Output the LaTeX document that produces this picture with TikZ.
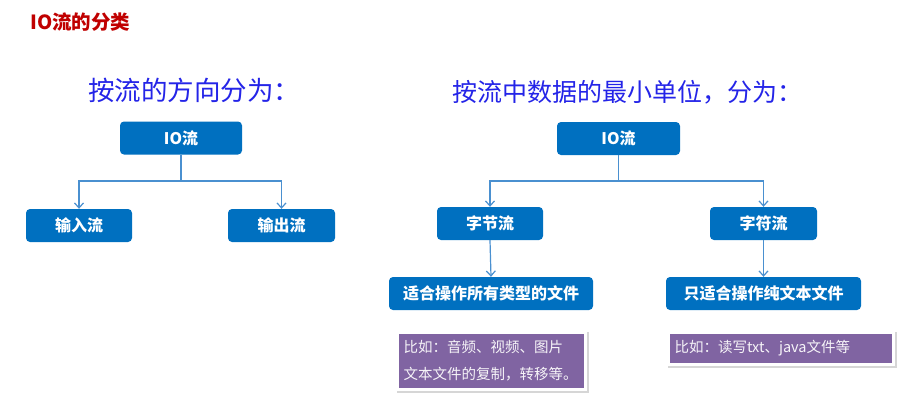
\documentclass[tikz,border=0pt]{standalone}
\usepackage{fontspec}
\setmainfont{Noto Sans CJK SC}
\usetikzlibrary{arrows.meta}

\definecolor{boxblue}{HTML}{0070C0}
\definecolor{lineblue}{HTML}{4A90D0}
\definecolor{notepurple}{HTML}{8064A2}
\definecolor{titlered}{HTML}{C00000}
\definecolor{handblue}{HTML}{2424E8}

\begin{document}
\begin{tikzpicture}[x = 1pt, y = -1pt,
  blockbox/.style = {fill = boxblue, rounded corners = 4pt, text = white,
    font = \fontsize{16}{18}\selectfont\bfseries, inner sep = 0pt, minimum height = 33pt},
  notebox/.style = {fill = notepurple, draw = white, line width = 3pt, text = white!93!notepurple,
    preaction = {draw = black!45, line width = 4pt, opacity = 0.35,
      transform canvas = {shift = {(1, 1.5)}}},
    inner sep = 0pt, inner xsep = 6pt, align = left, anchor = north west},
  conn/.style = {draw = lineblue, line width = 1.2pt, -{Straight Barb[length = 5pt, width = 9pt]}},
  headline/.style = {text = handblue, anchor = west, inner sep = 0pt}]

\useasboundingbox[fill = white] (0, 0) rectangle (913, 416);

\node[text = titlered, font = \fontsize{19.5}{22}\selectfont\bfseries, anchor = west, inner sep = 0pt]
  (title) at (30, 22) {IO流的分类};

% by direction
\node[headline, font = \fontsize{26.5}{28}\selectfont] (dirhead) at (88, 90) {按流的方向分为：};
\node[blockbox, minimum width = 122pt] (io1) at (181, 138) {IO流};
\node[blockbox, minimum width = 106pt] (input) at (79, 225.5) {输入流};
\node[blockbox, minimum width = 107pt] (output) at (281.5, 225.5) {输出流};
\coordinate (split1) at (181, 181);

\draw[conn] (io1.south) -- (split1) -| (input.north);
\draw[conn] (split1) -| (output.north);

% by smallest unit of data
\node[headline, font = \fontsize{25}{28}\selectfont] (unithead) at (452, 92) {按流中数据的最小单位，分为：};
\node[blockbox, minimum width = 123pt] (io2) at (618.5, 138.5) {IO流};
\node[blockbox, minimum width = 106pt] (bytes) at (490, 223.5) {字节流};
\node[blockbox, minimum width = 107pt] (chars) at (763.5, 223.5) {字符流};
\node[blockbox, minimum width = 204pt] (allfiles) at (491, 293.5) {适合操作所有类型的文件};
\node[blockbox, minimum width = 195pt] (textfiles) at (763.5, 293.5) {只适合操作纯文本文件};
\coordinate (split2) at (618.5, 181);

\draw[conn] (io2.south) -- (split2) -| (bytes.north);
\draw[conn] (split2) -| (chars.north);
\draw[conn] (bytes.south) -- (allfiles.north);
\draw[conn] (chars.south) -- (textfiles.north);

\node[notebox, text width = 176pt, minimum height = 57pt,
  font = \fontsize{14.5}{27}\selectfont] (bytenote) at (396, 331)
  {比如：音频、视频、图片\\文本文件的复制，转移等。};
\node[notebox, text width = 213pt, minimum height = 32pt,
  font = \fontsize{14.5}{18}\selectfont] (charnote) at (667, 331)
  {比如：读写txt、java文件等};

\end{tikzpicture}
\end{document}
